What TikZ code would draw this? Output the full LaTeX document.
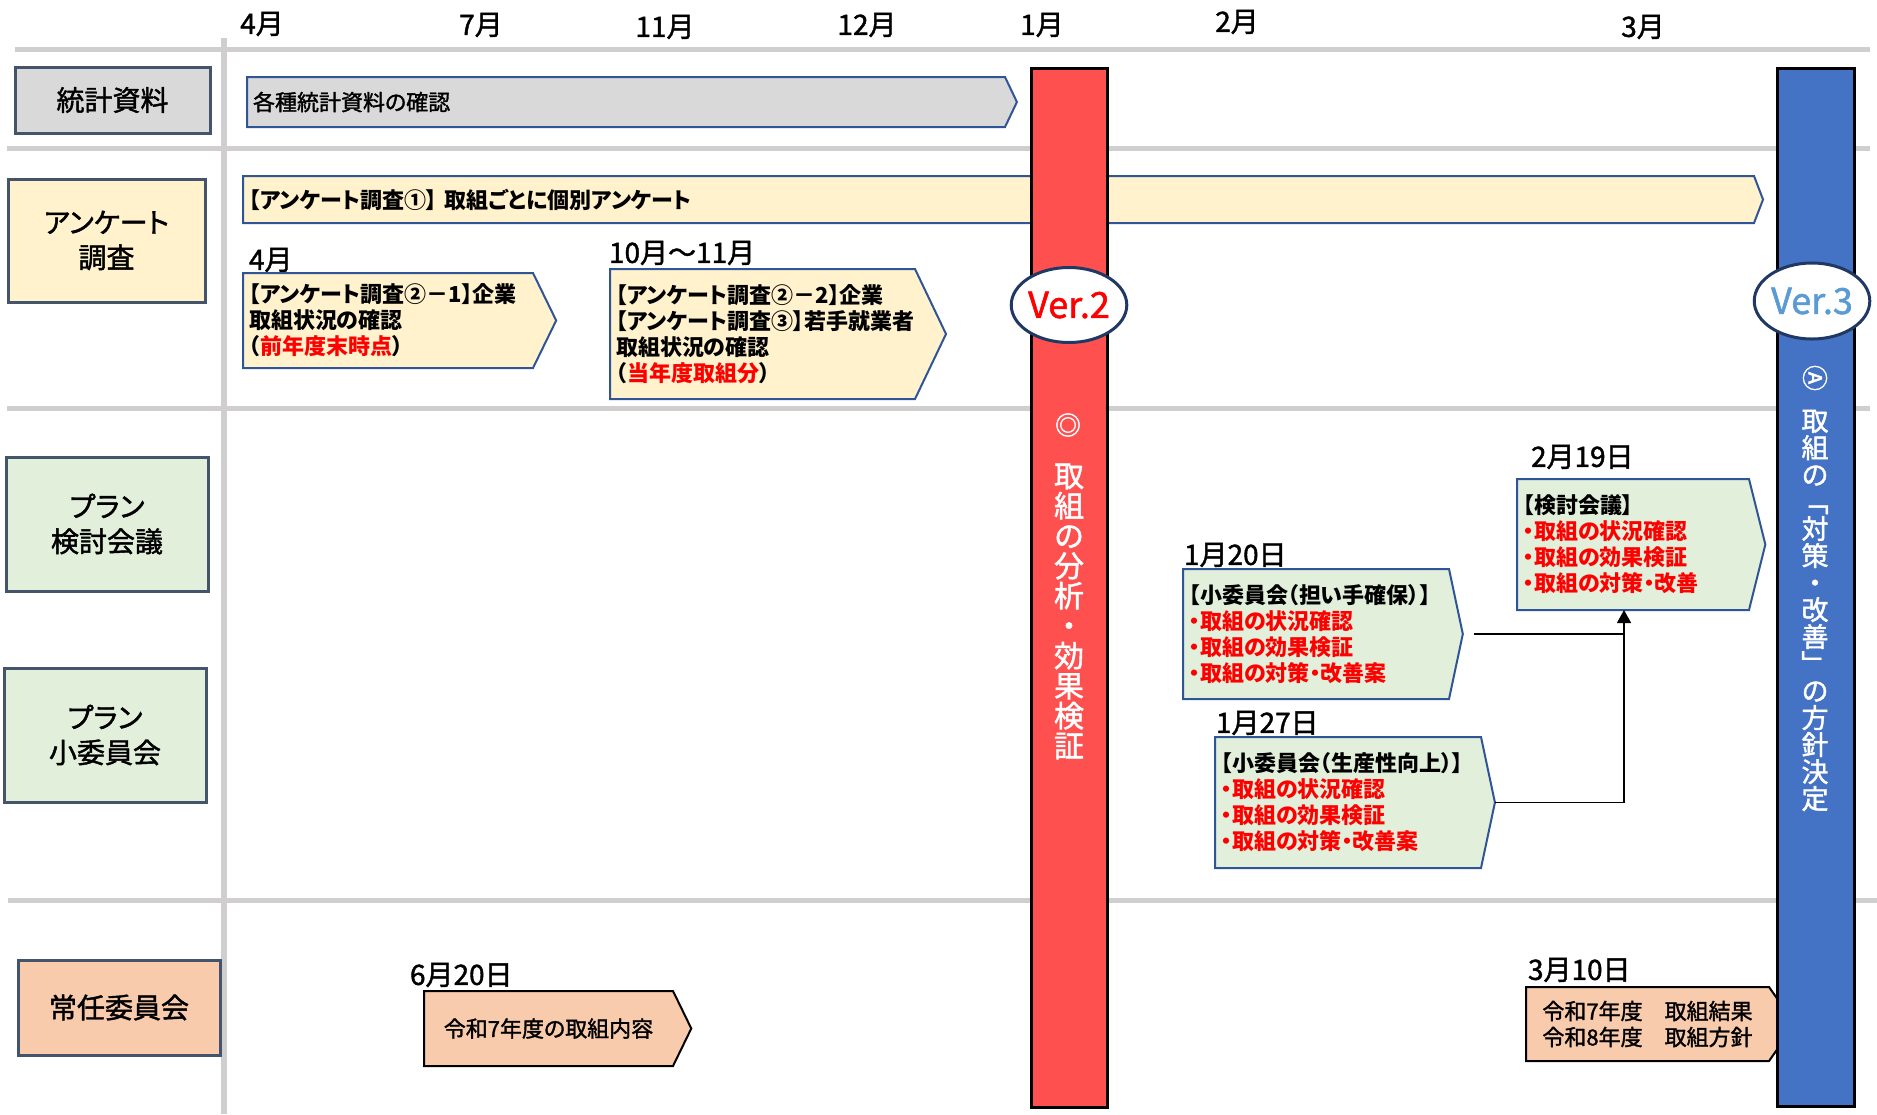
\documentclass[tikz,border=0pt]{standalone}
\usepackage{fontspec}
\setmainfont{Noto Sans CJK JP}[RawFeature=+palt]
\newfontfamily\medium{Noto Sans CJK JP}[RawFeature=+palt, FakeBold=1.5]
\usetikzlibrary{shapes.symbols,shapes.geometric,arrows.meta}
\definecolor{gridgray}{HTML}{D0CECE}
\definecolor{statgray}{HTML}{D9D9D9}
\definecolor{qyellow}{HTML}{FFF2CC}
\definecolor{plangreen}{HTML}{E2EFDA}
\definecolor{jpeach}{HTML}{F8CBAD}
\definecolor{slate}{HTML}{44546A}
\definecolor{boxblue}{HTML}{2F5597}
\definecolor{barred}{HTML}{FF5050}
\definecolor{barblue}{HTML}{4472C4}
\definecolor{ringnavy}{HTML}{1F3864}
\definecolor{ver3blue}{HTML}{5B9BD5}
\definecolor{hired}{HTML}{FF0000}

\begin{document}
\begin{tikzpicture}[x=0.5pt,y=-0.5pt]
\tikzstyle{every node}=[inner sep=0pt, outer sep=0pt]
\tikzstyle{grid}=[draw=gridgray, line width=2.5pt]
\tikzstyle{lane}=[draw=slate, line width=1.5pt, align=center, font=\fontsize{14pt}{17.5pt}\medium]
\tikzstyle{flow}=[signal, signal to=east, draw=boxblue, line width=1pt, inner xsep=3pt, inner ysep=2pt, anchor=west, align=left, font=\fontsize{11pt}{13pt}\selectfont\bfseries]
\tikzstyle{month}=[font=\fontsize{14pt}{14pt}\medium]
\tikzstyle{date}=[anchor=west, font=\fontsize{14pt}{14pt}\medium]
\tikzstyle{vbar}=[draw=black, line width=1.5pt]
\tikzstyle{ver}=[ellipse, draw=ringnavy, line width=1.5pt, fill=white, font=\fontsize{18pt}{18pt}\medium]
\tikzstyle{vtext}=[text=white, align=center]
\tikzstyle{link}=[draw=black, line width=0.7pt]
\useasboundingbox (0,0) rectangle (1877,1114);

% grid
\draw[grid] (15,49) -- (1870,49);
\draw[grid] (7,148) -- (1870,148);
\draw[grid] (7,408) -- (1870,408);
\draw[grid] (8,900) -- (1877,900);
\draw[grid, line width=3pt] (224,38) -- (224,1114);

% months
\draw (262,24) node (m4) [month] {4月};
\draw (481,25) node (m7) [month] {7月};
\draw (665,27) node (m11) [month] {11月};
\draw (867,25) node (m12) [month] {12月};
\draw (1042,25) node (m1) [month] {1月};
\draw (1237,22) node (m2) [month] {2月};
\draw (1643,27) node (m3) [month] {3月};

% lanes
\draw (112.5,100) node (statlane) [lane, fill=statgray, minimum width=97.5pt, minimum height=33pt] {統計資料};
\draw (106.5,240.5) node (qlane) [lane, fill=qyellow, minimum width=98.5pt, minimum height=61.5pt] {アンケート\\調査};
\draw (107,524) node (kentoulane) [lane, fill=plangreen, minimum width=101pt, minimum height=67pt] {プラン\\検討会議};
\draw (105,735) node (sublane) [lane, fill=plangreen, minimum width=101pt, minimum height=67pt] {プラン\\小委員会};
\draw (119,1007.5) node (jouninlane) [lane, fill=jpeach, minimum width=101pt, minimum height=47.5pt] {常任委員会};

% schedule boxes
\draw (247,102) node (stat) [flow, fill=statgray, text width=373pt, minimum height=25pt, signal pointer angle=129, font=\fontsize{11pt}{13pt}\medium] {各種統計資料の確認};
\draw (243,199.5) node (q1) [flow, fill=qyellow, text width=749.5pt, minimum height=23.5pt, signal pointer angle=138] {【アンケート調査①】 取組ごとに個別アンケート};
\draw (249,260) node (d4) [date] {4月};
\draw (243,320.5) node (q21) [flow, fill=qyellow, text width=139pt, minimum height=47.5pt, signal pointer angle=128] {【アンケート調査②－1】企業\\取組状況の確認\\（\textcolor{hired}{前年度末時点}）};
\draw (609,253) node (d1011) [date] {10月～11月};
\draw (610,334) node (q22) [flow, fill=qyellow, text width=146.5pt, minimum height=65pt, signal pointer angle=129] {【アンケート調査②－2】企業\\【アンケート調査③】若手就業者\\取組状況の確認\\（\textcolor{hired}{当年度取組分}）};

\draw (1531,457) node (d219) [date] {2月19日};
\draw (1517,544.5) node (kentou) [flow, fill=plangreen, text width=110pt, minimum height=65.5pt, signal pointer angle=152] {【検討会議】\\\textcolor{hired}{・取組の状況確認}\\\textcolor{hired}{・取組の効果検証}\\\textcolor{hired}{・取組の対策・改善}};
\draw (1184,555) node (d120) [date] {1月20日};
\draw (1183,634) node (sub1) [flow, fill=plangreen, text width=127pt, minimum height=65pt, signal pointer angle=156] {【小委員会（担い手確保）】\\\textcolor{hired}{・取組の状況確認}\\\textcolor{hired}{・取組の効果検証}\\\textcolor{hired}{・取組の対策・改善案}};
\draw (1216,723) node (d127) [date] {1月27日};
\draw (1215,802.5) node (sub2) [flow, fill=plangreen, text width=127pt, minimum height=65.5pt, signal pointer angle=156] {【小委員会（生産性向上）】\\\textcolor{hired}{・取組の状況確認}\\\textcolor{hired}{・取組の効果検証}\\\textcolor{hired}{・取組の対策・改善案}};

\draw (410,975) node (d620) [date] {6月20日};
\draw (424,1028.5) node (plan7) [flow, fill=jpeach, draw=black, align=center, text width=118.5pt, minimum height=37.5pt, signal pointer angle=128, font=\fontsize{11pt}{13pt}\medium] {令和7年度の取組内容};
\draw (1528,970) node (d310) [date] {3月10日};
\draw (1526,1024) node (result7) [flow, fill=jpeach, draw=black, align=center, text width=115.5pt, minimum height=37pt, signal pointer angle=110, font=\fontsize{11pt}{13pt}\medium] {令和7年度　取組結果\\令和8年度　取組方針};

% version bars
\draw (1069,587.5) node (bar2) [vbar, fill=barred, minimum width=38pt, minimum height=519.5pt] {};
\draw (1815.5,587) node (bar3) [vbar, fill=barblue, minimum width=38.5pt, minimum height=519pt] {};
\draw (1069,305) node (ver2) [ver, text=red, minimum width=57pt, minimum height=37.5pt] {Ver.2};
\draw (1812,301) node (ver3) [ver, text=ver3blue, minimum width=57.5pt, minimum height=38pt] {Ver.3};
\draw (1068,425) node (mark2) [vtext, font=\fontsize{13pt}{13pt}\medium] {◎};
\draw (1069,611.5) node (label2) [vtext, font=\fontsize{15pt}{15pt}\medium] {取\\組\\の\\分\\析\\・\\効\\果\\検\\証};
\draw (1815,378) node (mark3) [vtext, rotate=-90, font=\fontsize{13pt}{13pt}\medium] {Ⓐ};
\draw (1815,610.5) node (label3) [vtext, font=\fontsize{13.5pt}{13.5pt}\medium] {取\\組\\の\\﹁\\対\\策\\・\\改\\善\\﹂\\の\\方\\針\\決\\定};

% links
\coordinate (join) at (1624,634);
\draw[link, -{Triangle[length=6.5pt,width=7pt]}] ([xshift=5.5pt]sub1.east) -- (join) -- (join |- kentou.south);
\draw[link] (sub2.east) -| (join);
\end{tikzpicture}
\end{document}
